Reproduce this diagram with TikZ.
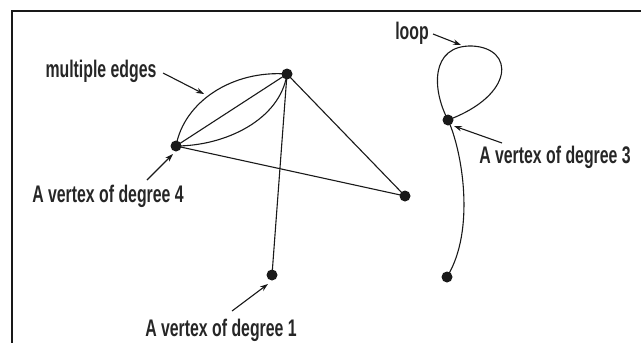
\documentclass[tikz,border=0pt]{standalone}
\usepackage{fontspec}
\setmainfont{Liberation Sans}[FakeStretch=0.66,BoldFeatures={FakeStretch=0.66}]
\usetikzlibrary{arrows.meta}
\begin{document}
\begin{tikzpicture}[x=1pt,y=-1pt,
  vtx/.style={circle,fill=black!90,inner sep=0pt,minimum size=11pt},
  edge/.style={line width=1.1pt,black!90},
  lbl/.style={font=\fontsize{24}{26}\selectfont\bfseries,anchor=base,inner sep=0pt,text=black!85},
  pointer/.style={line width=1.1pt,black!90,-{Stealth[length=8pt,width=5.5pt]}},
  frame/.style={line width=1.8pt,black!90}]
\useasboundingbox (0,0) rectangle (641,343);
% frame
\coordinate (fl) at (12,343);
\coordinate (fc) at (12,11);
\coordinate (fr) at (641,11);
\draw[frame] (fl) -- (fc) -- (fr);
% vertices
\node[vtx] (A) at (176,146) {};
\node[vtx] (B) at (287,74) {};
\node[vtx] (C) at (405,196) {};
\node[vtx] (D) at (272,275) {};
\node[vtx] (E) at (448,120) {};
\node[vtx] (F) at (447,277) {};
% edges
\draw[edge] (A.center) -- (B.center);
\draw[edge] (A.center) .. controls (184,102) and (232,70) .. (B.center);
\draw[edge] (A.center) .. controls (225,146) and (280,120) .. (B.center);
\draw[edge] (A.center) -- (C.center);
\draw[edge] (B.center) -- (C.center);
\draw[edge] (B.center) -- (D.center);
\draw[edge] (E.center) .. controls (432,90) and (430,45) .. (472,46)
                       .. controls (515,48) and (515,95) .. (E.center);
\draw[edge] (E.center) .. controls (462,150) and (476,230) .. (F.center);
% labels
\node[lbl] (lme) at (101,77) {multiple edges};
\node[lbl] (llp) at (412,39) {loop};
\node[lbl] (l3) at (555,163) {A vertex of degree 3};
\node[lbl] (l4) at (108,202) {A vertex of degree 4};
\node[lbl] (l1) at (221,336) {A vertex of degree 1};
% pointers
\coordinate (pme) at (163,73);  \coordinate (tme) at (204,94);
\coordinate (plp) at (433,34);  \coordinate (tlp) at (461,45);
\coordinate (p3) at (502,143);  \coordinate (t3) at (454,126);
\coordinate (p4) at (147,180);  \coordinate (t4) at (173,154);
\coordinate (p1) at (232,311);  \coordinate (t1) at (268,284);
\draw[pointer] (pme) -- (tme);
\draw[pointer] (plp) -- (tlp);
\draw[pointer] (p3) -- (t3);
\draw[pointer] (p4) -- (t4);
\draw[pointer] (p1) -- (t1);
\end{tikzpicture}
\end{document}
